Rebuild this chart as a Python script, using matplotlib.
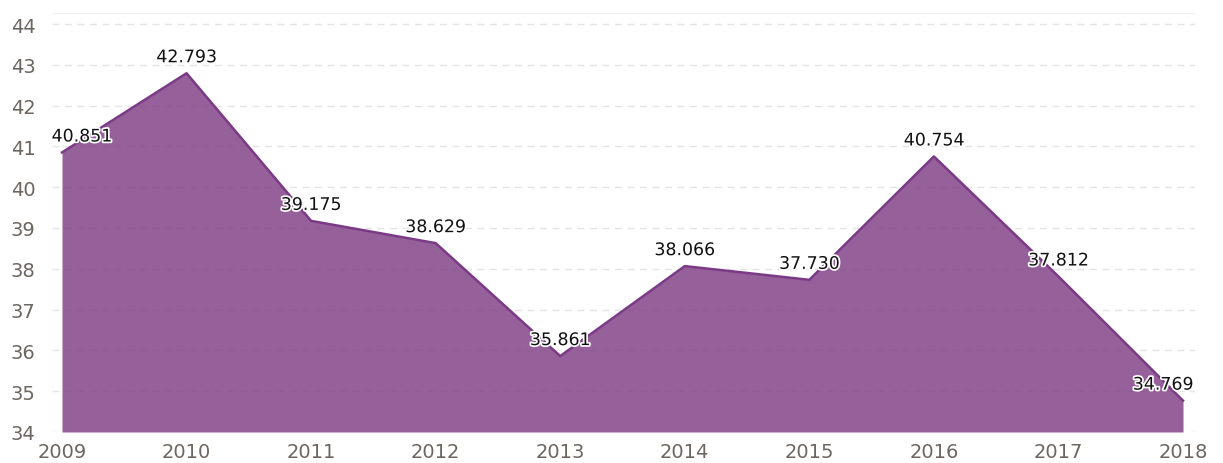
import matplotlib
matplotlib.use("Agg")
import matplotlib.pyplot as plt
import matplotlib.patheffects as pe

years = ["2009", "2010", "2011", "2012", "2013", "2014", "2015", "2016", "2017", "2018"]
values = [40.851, 42.793, 39.175, 38.629, 35.861, 38.066, 37.730, 40.754, 37.812, 34.769]
yticks = [34, 35, 36, 37, 38, 39, 40, 41, 42, 43, 44]

W, H = 1223, 464
fig = plt.figure(figsize=(W / 100, H / 100), dpi=100)
left, right = 52 / W, 1195 / W
bottom, top = 31 / H, (H - 14) / H
ax = fig.add_axes([left, bottom, right - left, top - bottom])

x = list(range(len(years)))
ax.fill_between(x, values, 34, color="#844489", alpha=0.85, linewidth=0, zorder=2)
ax.plot(x, values, color="#7b3a86", linewidth=1.8, zorder=3)

ax.set_xlim(-10 / 124.6, 9 + 12 / 124.6)
ax.set_ylim(34, 44 + 11 / 40.8)
ax.set_yticks(yticks)
ax.set_xticks(x)
ax.set_xticklabels(years)
ax.yaxis.grid(True, color="#e4e4e4", linestyle=(0, (5, 4)), linewidth=1, zorder=1)
ax.set_axisbelow(True)
for s in ["left", "right", "bottom"]:
    ax.spines[s].set_visible(False)
ax.spines["top"].set_color("#f0f0f0")
ax.tick_params(axis="both", length=0, labelsize=14, colors="#6c6660")
ax.tick_params(axis="y", pad=12)
ax.tick_params(axis="x", pad=7)

halo = [pe.withStroke(linewidth=2.5, foreground="white")]
n = len(values)
for i, v in enumerate(values):
    if i == 0:
        ha, dx = "left", -7.5
    elif i == n - 1:
        ha, dx = "right", 7.5
    else:
        ha, dx = "center", 0
    ax.annotate(f"{v:.3f}", (i, v), xytext=(dx, 11.5), textcoords="offset points",
                ha=ha, va="center", fontsize=12.5, color="#111111",
                path_effects=halo, zorder=5, annotation_clip=False)

fig.savefig("out.png", dpi=100)
